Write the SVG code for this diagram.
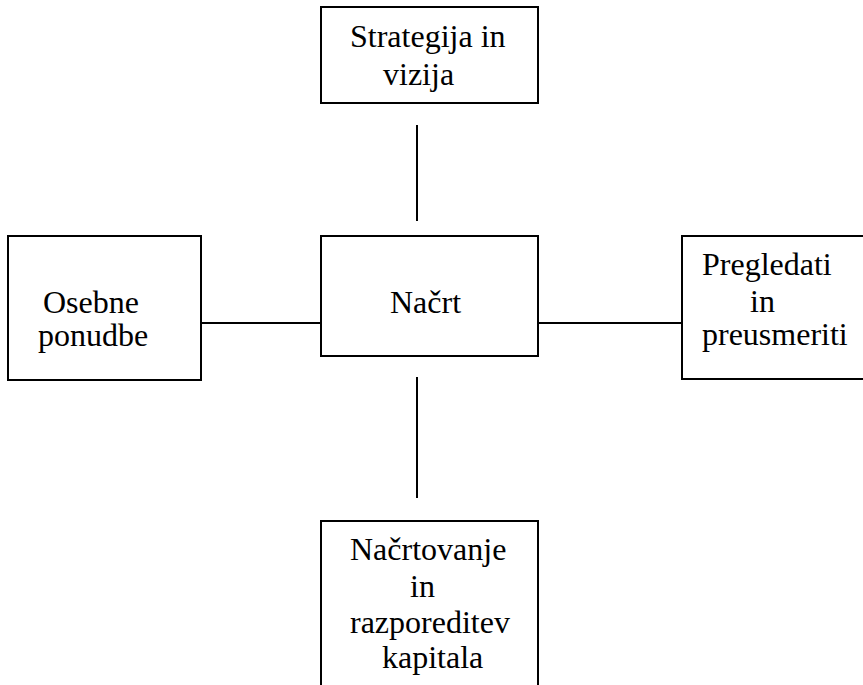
<svg xmlns="http://www.w3.org/2000/svg" width="863" height="685" viewBox="0 0 863 685">
<style>
.box{fill:#fff;stroke:#000;stroke-width:2}
.lbl{font-family:"Liberation Serif","Times New Roman",serif;font-size:32px;fill:#000}
.con line{stroke:#000;stroke-width:2}
</style>
<rect width="863" height="685" fill="#fff"/>
<g id="connectors" class="con">
<line x1="417" y1="125" x2="417" y2="221"/>
<line x1="201" y1="323" x2="321" y2="323"/>
<line x1="538" y1="323" x2="682" y2="323"/>
<line x1="417" y1="377" x2="417" y2="498"/>
</g>
<g id="strategija">
<rect class="box" x="321" y="7" width="217" height="96"/>
<text class="lbl" x="350" y="47">Strategija in</text>
<text class="lbl" x="383" y="85">vizija</text>
</g>
<g id="osebne">
<rect class="box" x="8" y="236" width="193" height="144"/>
<text class="lbl" x="43" y="313">Osebne</text>
<text class="lbl" x="38" y="346">ponudbe</text>
</g>
<g id="nacrt">
<rect class="box" x="321" y="236" width="217" height="120"/>
<text class="lbl" x="390" y="313">Načrt</text>
</g>
<g id="pregledati">
<path class="box" d="M864 236 H682 V379 H864"/>
<text class="lbl" x="702" y="275">Pregledati</text>
<text class="lbl" x="750" y="312">in</text>
<text class="lbl" x="702" y="345">preusmeriti</text>
</g>
<g id="nacrtovanje">
<path class="box" d="M321 686 V521 H538 V686"/>
<text class="lbl" x="350" y="560">Načrtovanje</text>
<text class="lbl" x="410" y="597">in</text>
<text class="lbl" x="350" y="633">razporeditev</text>
<text class="lbl" x="382" y="668">kapitala</text>
</g>
</svg>
